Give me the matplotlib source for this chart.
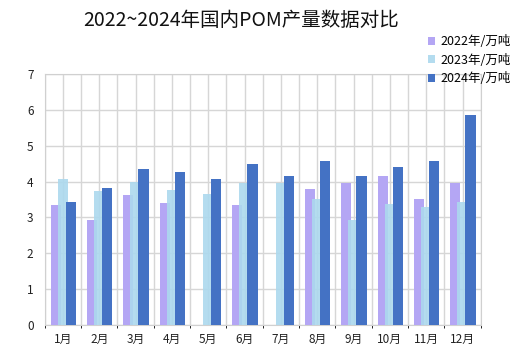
import matplotlib
matplotlib.use("Agg")
import matplotlib.pyplot as plt
import numpy as np

plt.rcParams["font.family"] = ["Noto Sans CJK SC", "DejaVu Sans"]
plt.rcParams["axes.unicode_minus"] = False

months = ["1月", "2月", "3月", "4月", "5月", "6月", "7月", "8月", "9月", "10月", "11月", "12月"]
series_names = ["2022年/万吨", "2023年/万吨", "2024年/万吨"]
y2022 = [3.34, 2.93, 3.62, 3.40, 0, 3.34, 0, 3.79, 3.95, 4.15, 3.51, 3.95]
y2023 = [4.06, 3.73, 3.99, 3.76, 3.65, 3.95, 3.95, 3.51, 2.93, 3.37, 3.29, 3.43]
y2024 = [3.43, 3.81, 4.34, 4.26, 4.06, 4.48, 4.15, 4.56, 4.15, 4.40, 4.56, 5.87]

colors = ["#b4a6f4", "#acd9ee", "#4472c4"]
offsets = [-0.2, 0.0, 0.22]
alphas = [1.0, 0.9, 1.0]

fig = plt.figure(figsize=(5.31, 3.58), dpi=100)
ax = fig.add_axes([0.0842, 0.0922, 0.8211, 0.7011])

x = np.arange(len(months))
for vals, name, c, off, a in zip([y2022, y2023, y2024], series_names, colors, offsets, alphas):
    ax.bar(x + off, vals, width=0.28, color=c, alpha=a, label=name, zorder=3)

ax.set_xlim(-0.5, len(months) - 0.5)
ax.set_ylim(0, 7)
ax.set_yticks(range(0, 8))
ax.set_xticks(x)
ax.set_xticklabels(months)
ax.set_xticks(np.arange(-0.5, len(months), 1), minor=True)
ax.tick_params(axis="both", length=0, labelsize=8.5, colors="#222222")
ax.tick_params(axis="x", pad=6)
ax.tick_params(axis="y", pad=8)
ax.grid(True, which="both", color="#d6d6d6", linewidth=1, zorder=0)
for s in ax.spines.values():
    s.set_color("#d0d0d0")

fig.text(0.454, 0.944, "2022~2024年国内POM产量数据对比", ha="center", va="center",
         fontsize=14, color="#111111")

ax.legend(loc="upper left", bbox_to_anchor=(0.878, 1.155), frameon=False, fontsize=9,
          handlelength=0.6, handleheight=0.6, handletextpad=0.4, labelspacing=0.45,
          borderaxespad=0, borderpad=0)

fig.savefig("out.png", dpi=100)
